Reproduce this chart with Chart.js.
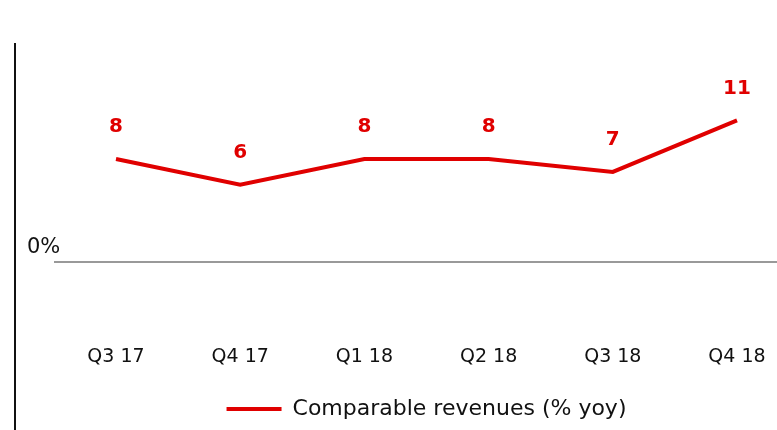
<!DOCTYPE html>
<html>
<head>
<meta charset="utf-8">
<script src="https://cdn.jsdelivr.net/npm/chart.js@4/dist/chart.umd.min.js"></script>
<style>
  html, body { margin: 0; padding: 0; background: #fff; }
  #wrap { width: 777px; height: 430px; }
</style>
</head>
<body>
<div id="wrap"><canvas id="revenue-chart"></canvas></div>
<script>
const quarters = ['Q3 17', 'Q4 17', 'Q1 18', 'Q2 18', 'Q3 18', 'Q4 18'];
const comparableRevenues = [8, 6, 8, 8, 7, 11];
const zeroLabel = '0%';

const RED = '#e00000';
const FONT = '"DejaVu Sans", sans-serif';

// frame line on the left, zero line, and value labels above points
const decorations = {
    id: 'decorations',
    afterDraw(chart) {
        const { ctx, chartArea, scales } = chart;
        const y0 = scales.y.getPixelForValue(0);
        ctx.save();
        ctx.strokeStyle = '#111';
        ctx.lineWidth = 2;
        ctx.beginPath();
        ctx.moveTo(15, 43);
        ctx.lineTo(15, chart.height);
        ctx.stroke();

        ctx.strokeStyle = '#777';
        ctx.lineWidth = 1.5;
        ctx.beginPath();
        ctx.moveTo(chartArea.left - 62, y0);
        ctx.lineTo(chart.width, y0);
        ctx.stroke();

        ctx.fillStyle = '#111';
        ctx.font = '21px ' + FONT;
        ctx.textAlign = 'left';
        ctx.textBaseline = 'middle';
        ctx.fillText(zeroLabel, 27, y0 - 14);

        const meta = chart.getDatasetMeta(0);
        ctx.fillStyle = RED;
        ctx.font = 'bold 20px ' + FONT;
        ctx.textAlign = 'center';
        meta.data.forEach((pt, i) => {
            ctx.fillText(String(comparableRevenues[i]), pt.x, pt.y - 32);
        });
        ctx.restore();
    }
};

function initChart() {
    const ctx = document.getElementById('revenue-chart').getContext('2d');
    new Chart(ctx, {
        type: 'line',
        data: {
            labels: quarters,
            datasets: [{
                label: 'Comparable revenues (% yoy)',
                data: comparableRevenues,
                borderColor: RED,
                backgroundColor: RED,
                borderWidth: 4,
                pointRadius: 0,
                tension: 0
            }]
        },
        options: {
            responsive: true,
            maintainAspectRatio: false,
            animation: false,
            layout: {
                padding: { left: 116, right: 40, top: 60, bottom: 0 }
            },
            scales: {
                x: {
                    offset: false,
                    grid: { display: false },
                    border: { display: false },
                    ticks: {
                        color: '#111',
                        padding: 11,
                        maxRotation: 0,
                        font: { family: FONT, size: 19 }
                    },
                    // empty title only adds space above the legend
                    title: {
                        display: true,
                        text: ' ',
                        padding: 0,
                        font: { size: 10, lineHeight: 1.2 }
                    }
                },
                y: {
                    display: false,
                    min: -5.0,
                    max: 15.7
                }
            },
            plugins: {
                legend: {
                    position: 'bottom',
                    labels: {
                        usePointStyle: true,
                        pointStyle: 'line',
                        pointStyleWidth: 55,
                        boxHeight: 4,
                        color: '#111',
                        padding: 7,
                        font: { family: FONT, size: 22 }
                    }
                },
                tooltip: { enabled: false }
            }
        },
        plugins: [decorations]
    });
}

document.addEventListener('DOMContentLoaded', () => {
    initChart();
});
</script>
</body>
</html>
